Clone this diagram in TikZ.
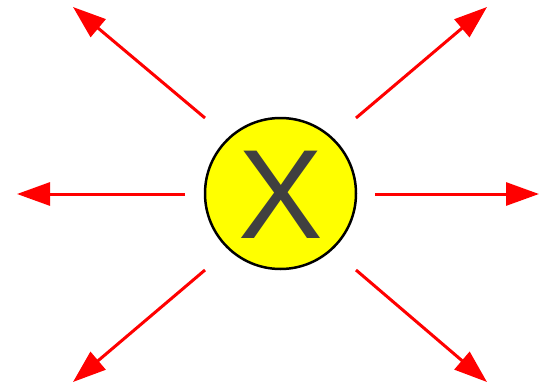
\documentclass[tikz,border=0pt]{standalone}
\usepackage{fontspec}
\setmainfont{Liberation Sans}
\usetikzlibrary{arrows.meta}
\definecolor{rayred}{RGB}{255,0,0}
\definecolor{discyellow}{RGB}{255,255,0}
\definecolor{lettergray}{RGB}{64,64,64}
\tikzset{
    ray/.style={rayred, line width=3pt, -{Triangle[length=33pt, width=23pt]}},
}
\begin{document}
\begin{tikzpicture}[x=1pt, y=-1pt]
        \useasboundingbox (0,0) rectangle (539,389);
        \node[circle, draw, line width=2.5pt, fill=discyellow, minimum size=151pt, inner sep=0pt] (c) at (280.5,193.5) {};
        \node[anchor=base, inner sep=0pt, text=lettergray] (x) at (280.5,238) {\fontsize{127}{127}\selectfont X};
        % start and end of each ray
        \coordinate (w0) at (185,194);  \coordinate (w1) at (17,194);
        \coordinate (e0) at (375,194);  \coordinate (e1) at (539,194);
        \coordinate (nw0) at (205,118); \coordinate (nw1) at (73,7);
        \coordinate (ne0) at (356,118); \coordinate (ne1) at (487,7);
        \coordinate (sw0) at (205,270); \coordinate (sw1) at (73,382);
        \coordinate (se0) at (356,270); \coordinate (se1) at (487,382);
        \foreach \d in {w,e,nw,ne,sw,se} {
            \draw[ray] (\d0) -- (\d1);
        }
    \end{tikzpicture}
\end{document}
